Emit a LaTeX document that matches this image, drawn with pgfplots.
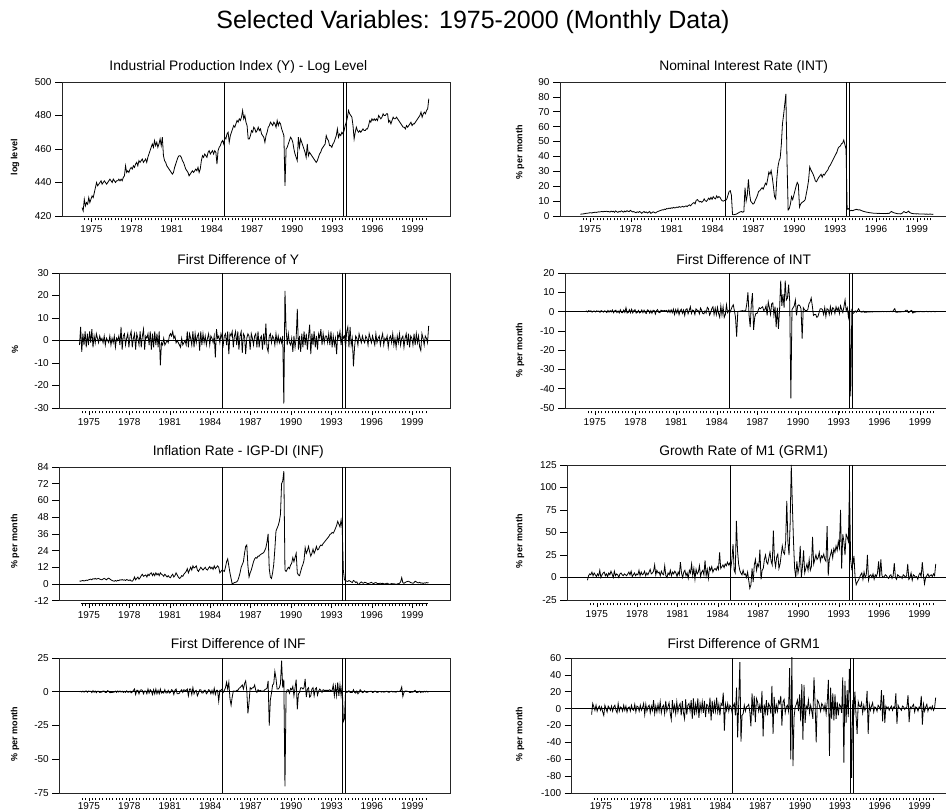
\documentclass[border=0pt]{standalone}
\usepackage{fontspec}
\setmainfont{Liberation Sans}
\setsansfont{Liberation Sans}
\usepackage{pgfplots}
\usepackage{pgfplotstable}
\pgfplotsset{compat=1.18}

% Industrial production, log level (monthly)
\pgfplotstableread[header=false,row sep=\\]{
425\\423\\430\\426\\428\\427\\431\\428\\430\\432\\
431\\434\\437\\440\\438\\439\\440\\441\\439\\440\\
441\\440\\439\\440\\441\\442\\441\\440\\442\\441\\
440\\441\\441\\442\\441\\442\\441\\443\\444\\450\\
446\\447\\446\\448\\449\\448\\450\\449\\451\\452\\
450\\453\\452\\453\\454\\452\\453\\454\\452\\455\\
457\\459\\461\\463\\461\\465\\462\\464\\461\\463\\
466\\462\\467\\456\\453\\452\\450\\449\\448\\447\\
446\\445\\446\\449\\451\\453\\455\\456\\456\\455\\
453\\452\\450\\448\\447\\446\\444\\445\\446\\447\\
446\\447\\448\\447\\449\\446\\448\\453\\456\\455\\
457\\456\\455\\458\\459\\457\\458\\459\\457\\459\\
458\\451\\459\\461\\462\\464\\465\\463\\467\\466\\
469\\470\\464\\468\\470\\472\\474\\473\\475\\477\\
476\\478\\477\\479\\483\\478\\480\\476\\474\\466\\
466\\468\\471\\470\\473\\472\\470\\471\\473\\471\\
472\\469\\468\\467\\464\\468\\470\\473\\474\\476\\
475\\474\\476\\475\\473\\477\\474\\476\\475\\472\\
470\\468\\438\\460\\461\\463\\465\\467\\466\\464\\
460\\457\\455\\453\\467\\461\\466\\464\\462\\460\\
458\\455\\463\\456\\458\\457\\456\\455\\454\\453\\
452\\453\\455\\457\\458\\460\\461\\462\\463\\468\\
466\\465\\462\\462\\461\\463\\464\\466\\468\\472\\
467\\469\\468\\470\\469\\471\\474\\476\\479\\483\\
481\\480\\479\\474\\466\\470\\473\\471\\470\\471\\
470\\471\\472\\471\\471\\472\\472\\474\\477\\476\\
478\\477\\478\\477\\478\\477\\480\\479\\478\\479\\
481\\480\\480\\481\\481\\476\\477\\475\\477\\479\\
478\\478\\479\\478\\477\\476\\475\\474\\473\\473\\
472\\474\\473\\474\\475\\476\\474\\475\\475\\476\\
477\\478\\479\\480\\482\\479\\481\\482\\481\\483\\
484\\490\\
}\tabY

% First difference of Y
\pgfplotstableread[header=false,row sep=\\]{
-2\\6\\-5\\3\\-2\\4\\-3\\3\\-2\\4\\
-1\\5\\-3\\2\\-1\\3\\1\\-1\\2\\0\\
1\\-1\\2\\-2\\1\\0\\-1\\2\\-2\\1\\
-1\\2\\-3\\1\\0\\2\\-2\\6\\-4\\2\\
3\\-2\\1\\3\\-3\\2\\4\\-3\\1\\3\\
-4\\3\\1\\-2\\4\\-3\\2\\5\\-4\\2\\
1\\3\\-2\\4\\-4\\3\\-3\\4\\-2\\3\\
-3\\4\\-11\\-1\\-2\\1\\-2\\-1\\0\\-1\\
2\\3\\2\\4\\1\\2\\-1\\0\\-1\\-2\\
-3\\1\\-2\\-1\\0\\-2\\4\\-3\\3\\1\\
-2\\4\\-3\\3\\-1\\2\\3\\-4.5\\4\\-2\\
3\\-1\\2\\-2\\1\\3\\-2\\2\\1\\-1\\
2\\-7.5\\5\\1\\2\\-1\\3\\1\\-2\\2\\
3\\-2\\4\\-6\\3\\2\\4\\-3\\2\\4\\
-2\\4\\-4\\2\\4\\-5.5\\3\\2\\-6\\1\\
3\\2\\-4\\3\\1\\-2\\2\\3\\-3\\4\\
-3\\1\\2\\-4\\3\\-2\\7.5\\-3\\-5\\2\\
3\\-1\\2\\1\\-2\\3\\-1\\2\\-1\\1\\
-1\\2\\-28\\22\\5\\-2\\3\\-1\\-2\\1\\
-5\\2\\-3\\1\\14\\-4\\2\\-5\\3\\-3\\
4\\-2\\3\\-4\\2\\7\\-6\\3\\-2\\4\\
-3\\2\\-4\\3\\1\\5\\-2\\3\\-1\\2\\
2\\-1\\3\\-2\\4\\-3\\2\\-2\\1\\-6\\
3\\1\\4\\-2\\3\\1\\2\\-3\\4\\6\\
-3\\6\\-2\\1\\-11.5\\-3\\2\\1\\-2\\3\\
1\\-1\\2\\0\\-1\\2\\1\\-2\\3\\1\\
-1\\2\\0\\-2\\3\\-1\\1\\2\\-2\\1\\
3\\-2\\1\\0\\2\\-3\\1\\2\\-1\\3\\
-2\\1\\-3\\2\\-1\\3\\-2\\1\\2\\-3\\
1\\3\\-2\\3\\-3\\2\\1\\-2\\3\\-2\\
3\\-1\\2\\-3\\-4.5\\3\\1\\-2\\2\\1\\
-1\\6.5\\
}\tabdY

% Nominal interest rate
\pgfplotstableread[header=false,row sep=\\]{
1.2\\1.3\\1.3\\1.5\\1.6\\1.8\\1.8\\2.0\\2.1\\2.2\\
2.0\\2.3\\2.4\\2.5\\2.4\\2.6\\2.8\\2.7\\2.9\\3.0\\
2.8\\3.1\\3.0\\3.2\\2.9\\3.0\\2.6\\3.3\\2.8\\3.2\\
2.5\\3.4\\2.9\\2.4\\3.1\\2.7\\3.5\\3.0\\2.6\\3.3\\
2.8\\3.6\\3.1\\2.9\\3.8\\3.2\\2.7\\3.0\\2.5\\2.2\\
2.8\\2.4\\3.0\\2.6\\1.8\\2.5\\3.0\\2.3\\2.7\\2.0\\
2.5\\3.0\\1.8\\2.2\\2.8\\2.5\\2.0\\2.5\\3.0\\3.2\\
3.6\\3.8\\4.2\\4.0\\4.6\\4.4\\5.0\\4.8\\5.3\\5.0\\
5.5\\5.2\\5.8\\5.4\\5.6\\6.0\\5.7\\6.3\\5.9\\6.1\\
6.5\\6.0\\6.4\\6.8\\6.3\\7.0\\7.5\\6.8\\7.8\\8.5\\
9.0\\8.2\\10.5\\11.0\\10.2\\9.5\\9.8\\9.2\\10.0\\11.5\\
10.2\\9.8\\10.8\\12.0\\11.0\\12.5\\11.2\\13.0\\12.0\\11.5\\
13.5\\12.2\\13.0\\12.5\\11.0\\10.2\\10.0\\10.5\\10.5\\11.5\\
14.0\\16.5\\17.0\\14.0\\1.0\\0.8\\1.0\\1.2\\1.5\\2.0\\
2.5\\2.8\\3.0\\2.5\\3.0\\19.0\\10.0\\14.0\\24.5\\15.0\\
10.0\\9.0\\8.0\\8.5\\10.5\\12.0\\14.0\\16.5\\17.0\\18.0\\
19.0\\18.0\\20.0\\22.0\\21.0\\25.0\\29.5\\28.0\\30.5\\26.0\\
20.0\\13.0\\11.5\\25.0\\33.0\\37.0\\39.0\\48.0\\62.0\\68.0\\
75.0\\82.0\\37.0\\4.0\\5.0\\8.0\\13.0\\11.0\\14.0\\17.0\\
20.0\\22.5\\21.0\\6.0\\8.0\\9.0\\9.5\\10.0\\11.0\\15.0\\
19.0\\24.0\\33.0\\31.0\\29.5\\28.0\\26.0\\23.5\\23.0\\24.5\\
26.0\\27.0\\28.0\\26.0\\28.0\\27.5\\29.0\\30.0\\31.0\\33.0\\
34.0\\35.5\\37.0\\38.5\\40.0\\41.5\\43.0\\45.5\\46.5\\47.0\\
48.5\\49.0\\51.0\\48.0\\45.0\\4.5\\5.0\\4.0\\3.5\\3.8\\
3.5\\4.0\\4.2\\4.5\\4.3\\4.0\\4.2\\3.8\\3.5\\3.2\\
3.0\\2.8\\2.6\\2.5\\2.3\\2.2\\2.1\\2.0\\1.9\\1.9\\
1.8\\1.8\\1.7\\1.8\\1.7\\1.7\\1.7\\1.6\\1.7\\1.6\\
1.7\\1.8\\1.7\\2.5\\3.0\\2.6\\2.2\\2.0\\1.8\\1.6\\
1.5\\1.5\\1.4\\1.6\\2.3\\3.0\\2.5\\2.2\\2.6\\3.2\\
2.4\\2.0\\1.7\\1.6\\1.5\\1.5\\1.4\\1.5\\1.4\\1.4\\
1.3\\1.3\\1.4\\1.3\\1.2\\1.3\\1.2\\1.2\\1.3\\1.2\\
1.1\\1.2\\
}\tabINT

% First difference of INT
\pgfplotstableread[header=false,row sep=\\]{
0\\0.3\\-0.2\\0.5\\0.1\\0.4\\-0.3\\0.2\\0.3\\-0.2\\
0.4\\0.1\\0.3\\-0.4\\0.5\\0.2\\-0.3\\0.4\\0.1\\-0.5\\
0.6\\-0.3\\0.5\\-0.2\\0.8\\-0.6\\0.4\\0.7\\-0.5\\0.3\\
-0.7\\0.9\\-0.5\\-0.6\\0.8\\-0.4\\2.0\\-0.8\\-0.5\\1.0\\
-0.6\\1.2\\-0.7\\0.5\\1.0\\-0.8\\-0.5\\0.6\\-0.7\\-0.4\\
0.8\\-0.6\\0.7\\-0.5\\-1.0\\0.9\\0.6\\-0.8\\0.5\\-0.9\\
0.7\\0.6\\-1.3\\0.5\\1.0\\-0.4\\-0.6\\0.7\\0.5\\0.3\\
0.6\\0.3\\0.6\\-0.4\\0.8\\-0.5\\0.9\\-0.6\\1.2\\-1.5\\
1.0\\-0.8\\1.3\\-1.6\\0.5\\1.2\\-0.9\\0.8\\-2.0\\1.0\\
1.5\\-1.2\\0.6\\2.5\\-1.0\\0.8\\0.5\\-1.5\\1.4\\0.7\\
0.5\\-1.2\\1.8\\0.6\\-1.0\\-1.2\\0.4\\-0.8\\2.2\\1.5\\
-1.8\\-0.6\\1.5\\2.5\\-1.5\\1.8\\-1.6\\2.2\\-1.0\\-3.0\\
3.0\\-1.8\\2.5\\-3.0\\-1.5\\3.5\\-0.6\\0.5\\-0.5\\1.0\\
2.5\\3.5\\0.5\\-3.0\\-13.0\\-0.2\\0.2\\0.2\\0.3\\0.5\\
0.3\\0.4\\0.5\\4.0\\10.0\\-2.0\\-8.0\\4.0\\9.5\\-9.5\\
-3.0\\-1.0\\-1.0\\0.5\\2.0\\1.5\\2.0\\2.5\\0.5\\1.0\\
3.0\\-2.0\\5.0\\2.0\\-1.5\\4.0\\4.5\\-2.0\\2.5\\-8.0\\
2.0\\-9.0\\1.0\\16.0\\3.0\\9.0\\2.0\\16.0\\6.0\\7.0\\
14.0\\5.0\\-45.0\\1.0\\2.0\\3.0\\6.0\\-2.0\\3.0\\3.5\\
3.0\\1.5\\-14.0\\2.0\\1.0\\0.5\\0.5\\1.0\\4.0\\5.0\\
7.0\\3.0\\-2.0\\-1.5\\-1.5\\-3.0\\-2.5\\-0.5\\1.5\\1.5\\
1.0\\-1.5\\2.0\\-2.5\\1.5\\1.0\\-1.5\\2.5\\-1.0\\2.0\\
1.5\\-1.0\\2.5\\0.5\\2.0\\-1.0\\3.0\\1.0\\-0.5\\2.5\\
6.0\\0.5\\2.0\\-3.0\\1.5\\-44.0\\0.5\\-1.0\\-0.5\\0.3\\
-0.3\\0.5\\1.5\\0.3\\-0.2\\-0.3\\0.2\\-0.4\\-0.3\\-0.3\\
-0.2\\-0.2\\-0.2\\-0.1\\-0.2\\-0.1\\-0.1\\-0.1\\-0.1\\0\\
-0.1\\0\\-0.1\\0.1\\-0.1\\0\\0\\-0.1\\0.1\\-0.1\\
0.1\\0.1\\-0.1\\0.8\\1.5\\-0.4\\-0.4\\-0.2\\-0.2\\-0.2\\
-0.1\\0\\-0.1\\0.2\\0.7\\0.7\\-0.5\\-0.3\\0.4\\0.6\\
-0.8\\-0.4\\-0.3\\-0.1\\-0.1\\0\\-0.1\\0.1\\-0.1\\0\\
-0.1\\0\\0.1\\-0.1\\-0.1\\0.1\\-0.1\\0\\0.1\\-0.1\\
-0.1\\0.1\\
}\tabdINT

% Inflation rate IGP-DI
\pgfplotstableread[header=false,row sep=\\]{
2.2\\2.0\\2.3\\2.5\\2.2\\2.4\\2.8\\2.5\\3.0\\3.2\\
3.5\\3.0\\3.8\\3.5\\4.0\\3.4\\3.8\\4.0\\3.5\\3.2\\
3.0\\3.6\\4.0\\3.5\\3.0\\3.8\\4.2\\3.6\\3.0\\2.5\\
2.2\\2.0\\2.5\\2.0\\2.6\\2.4\\3.0\\2.8\\3.2\\2.7\\
3.0\\2.5\\3.2\\2.8\\2.5\\3.0\\2.2\\2.0\\3.0\\5.0\\
3.0\\4.0\\5.0\\3.5\\4.5\\6.0\\7.0\\5.5\\6.0\\6.5\\
5.0\\7.0\\6.0\\7.5\\8.0\\6.0\\7.5\\6.0\\8.0\\6.5\\
7.5\\6.0\\8.0\\7.0\\6.5\\5.5\\7.0\\6.0\\5.0\\6.0\\
5.0\\4.5\\6.0\\7.0\\5.0\\6.0\\8.0\\6.5\\5.0\\4.0\\
4.5\\6.0\\5.5\\7.0\\8.0\\9.0\\11.0\\8.0\\10.0\\12.0\\
10.0\\13.0\\11.5\\12.0\\13.0\\10.0\\9.0\\10.5\\12.0\\11.0\\
10.0\\11.0\\12.0\\10.5\\10.0\\11.5\\12.5\\11.0\\12.0\\10.5\\
13.0\\11.0\\12.0\\13.0\\12.0\\8.0\\9.0\\10.0\\9.5\\9.0\\
12.0\\16.0\\18.0\\13.0\\8.0\\4.0\\0.0\\0.5\\1.0\\1.2\\
1.5\\2.5\\5.0\\8.0\\12.0\\14.0\\16.0\\22.0\\27.0\\28.0\\
13.0\\5.0\\8.0\\10.0\\13.0\\16.0\\18.0\\19.0\\18.5\\20.0\\
20.0\\21.0\\21.5\\22.0\\22.5\\24.0\\26.0\\30.0\\36.0\\11.0\\
5.0\\4.0\\8.0\\14.0\\25.0\\38.0\\40.0\\42.0\\45.0\\50.0\\
72.0\\74.0\\81.0\\10.0\\9.0\\10.5\\12.0\\11.0\\13.5\\15.0\\
19.0\\16.0\\19.0\\22.0\\8.0\\6.5\\6.0\\9.0\\12.0\\14.0\\
17.0\\26.0\\22.0\\24.0\\27.0\\23.0\\20.0\\22.0\\25.0\\22.0\\
24.0\\27.0\\24.5\\25.0\\27.0\\28.0\\27.5\\29.0\\30.0\\31.0\\
32.0\\33.0\\34.0\\35.5\\36.0\\37.0\\36.5\\38.0\\40.0\\42.0\\
45.0\\43.0\\41.0\\46.0\\40.0\\10.0\\3.0\\2.5\\2.0\\1.8\\
2.5\\2.0\\1.5\\1.0\\2.5\\2.0\\1.0\\1.5\\0.0\\-0.5\\
1.0\\1.5\\0.8\\0.5\\1.2\\1.0\\0.5\\0.3\\0.5\\0.8\\
1.2\\0.6\\0.3\\0.8\\1.0\\0.5\\0.2\\0.4\\0.6\\0.3\\
0.5\\0.2\\0.0\\0.3\\0.6\\0.2\\-0.2\\0.0\\0.3\\0.1\\
0.2\\0.0\\-0.3\\0.1\\0.2\\0.5\\1.5\\4.5\\1.0\\0.5\\
1.0\\1.5\\1.8\\2.0\\1.5\\1.0\\0.8\\0.5\\1.0\\2.0\\
1.5\\1.0\\0.8\\1.2\\0.6\\0.8\\0.4\\0.8\\0.6\\1.0\\
0.8\\0.9\\
}\tabINF

% Growth rate of M1
\pgfplotstableread[header=false,row sep=\\]{
-3\\2\\4\\3\\6\\2\\5\\3\\1\\4\\
2\\8\\0\\3\\5\\6\\2\\4\\1\\5\\
3\\7\\4\\0\\7\\2\\4\\3\\0\\4\\
5\\3\\2\\4\\3\\2\\4\\6\\3\\7\\
1\\3\\5\\2\\4\\3\\8\\2\\6\\3\\
4\\7\\2\\5\\3\\6\\9\\4\\5\\7\\
14\\3\\8\\5\\6\\2\\7\\4\\3\\13\\
2\\0\\5\\3\\8\\2\\6\\4\\7\\5\\
1\\6\\3\\17\\5\\0\\6\\8\\2\\5\\
-1\\8\\5\\15\\2\\10\\-2\\9\\4\\6\\
13\\1\\6\\8\\3\\19\\2\\9\\-1\\11\\
8\\12\\6\\9\\10\\8\\12\\9\\28\\10\\
12\\14\\11\\15\\13\\17\\14\\16\\10\\20\\
37\\8\\5\\63\\30\\15\\8\\5\\3\\8\\
3\\4\\0\\6\\-3\\-12\\-8\\10\\-5\\14\\
20\\8\\15\\12\\31\\-2\\8\\10\\20\\25\\
17\\15\\22\\28\\18\\14\\52\\20\\12\\23\\
26\\10\\15\\25\\35\\28\\26\\40\\85\\40\\
25\\60\\125\\80\\40\\10\\0\\18\\5\\12\\
35\\0\\12\\30\\5\\10\\15\\8\\20\\8\\
12\\45\\15\\20\\25\\20\\22\\28\\18\\24\\
22\\26\\20\\18\\57\\2\\20\\25\\30\\22\\
32\\28\\35\\30\\40\\33\\75\\10\\48\\40\\
25\\48\\45\\40\\103\\20\\10\\15\\24\\0\\
-8\\-5\\-3\\0\\3\\5\\-2\\6\\0\\3\\
25\\-3\\2\\3\\0\\4\\-2\\3\\1\\5\\
18\\0\\20\\2\\0\\1\\3\\2\\0\\-1\\
2\\3\\-1\\2\\16\\0\\-2\\3\\2\\0\\
1\\-1\\3\\2\\0\\2\\15\\-2\\0\\5\\
-3\\3\\2\\0\\1\\-2\\3\\5\\1\\17\\
3\\-7\\0\\2\\4\\1\\2\\3\\1\\4\\
2\\15\\
}\tabGRM

% First difference of INF
\pgfplotstableread[header=false,row sep=\\]{
0\\0.3\\-0.2\\0.5\\-0.3\\0.4\\0.6\\-0.4\\0.5\\0.3\\
0.4\\-0.6\\0.8\\-0.4\\0.5\\-0.7\\0.4\\0.3\\-0.5\\-0.4\\
-0.2\\0.6\\0.5\\-0.6\\-0.5\\0.8\\0.4\\-0.7\\-0.6\\-0.5\\
-0.4\\-0.2\\0.5\\-0.5\\0.6\\-0.2\\0.6\\-0.2\\0.4\\-0.5\\
0.3\\-0.5\\0.7\\-0.4\\-0.3\\0.5\\-0.8\\-0.2\\1.0\\2.0\\
-2.0\\1.0\\1.0\\-1.5\\1.0\\1.5\\1.0\\-1.5\\0.5\\0.5\\
-1.5\\2.0\\-1.0\\1.5\\0.5\\-2.0\\1.5\\-1.5\\2.0\\-1.5\\
1.0\\-1.5\\2.0\\-1.0\\-0.5\\-1.0\\1.5\\-1.0\\-1.0\\1.0\\
-1.0\\-0.5\\1.5\\1.0\\-2.0\\1.0\\2.0\\-1.5\\-1.5\\-1.0\\
0.5\\1.5\\-0.5\\1.5\\1.0\\1.0\\2.0\\-3.0\\2.0\\2.0\\
-2.0\\3.0\\-1.5\\0.5\\1.0\\-3.0\\-1.0\\1.5\\1.5\\-1.0\\
-1.0\\1.0\\1.0\\-1.5\\-0.5\\1.5\\1.0\\-1.5\\1.0\\-1.5\\
2.5\\-2.0\\1.0\\1.0\\-7.0\\1.0\\1.0\\2.0\\-0.5\\1.0\\
3.0\\7.0\\2.0\\7.0\\-5.0\\-10.0\\-4.0\\0.5\\0.5\\0.2\\
1.0\\1.0\\2.5\\3.0\\4.0\\5.0\\2.0\\6.0\\8.0\\1.0\\
-16.0\\-8.0\\3.0\\2.0\\3.0\\3.0\\5.0\\1.0\\-0.5\\1.5\\
0.5\\1.0\\0.5\\0.5\\0.5\\1.5\\2.0\\2.5\\8.0\\-25.0\\
-6.0\\-1.0\\5.0\\6.0\\15.0\\10.0\\2.0\\2.0\\3.0\\6.0\\
23.0\\3.0\\9.0\\-70.0\\-1.0\\1.5\\1.5\\-1.0\\2.5\\1.5\\
4.0\\-3.0\\3.0\\9.0\\-13.0\\-1.5\\-0.5\\3.0\\3.0\\2.0\\
3.0\\9.5\\-4.0\\2.0\\3.0\\-4.0\\-3.0\\2.0\\3.0\\-3.0\\
2.0\\3.0\\-2.5\\0.5\\2.0\\1.0\\-0.5\\1.5\\1.0\\1.0\\
1.0\\1.0\\1.0\\1.5\\0.5\\1.0\\5.0\\-3.0\\4.0\\-3.0\\
7.0\\-3.0\\5.0\\-3.0\\5.0\\-22.0\\-20.0\\1.0\\-0.5\\-0.2\\
0.7\\-0.5\\-0.5\\-0.5\\1.5\\-0.5\\-1.0\\0.5\\-1.5\\-0.5\\
1.5\\0.5\\-0.7\\-0.3\\0.7\\-0.2\\-0.5\\-0.2\\0.2\\0.3\\
0.4\\-0.6\\-0.3\\0.5\\0.2\\-0.5\\-0.3\\0.2\\0.2\\-0.3\\
0.2\\-0.3\\-0.2\\0.3\\0.3\\-0.4\\-0.4\\0.2\\0.3\\-0.2\\
0.1\\-0.2\\-0.3\\0.4\\0.1\\0.3\\1.0\\3.5\\-3.5\\-0.5\\
0.5\\0.5\\0.3\\0.2\\-0.5\\-0.5\\-0.2\\-0.3\\0.5\\1.0\\
-0.5\\-0.5\\-0.2\\0.4\\-0.6\\0.2\\-0.4\\0.4\\-0.2\\0.4\\
-0.2\\0.1\\
}\tabdINF

% First difference of GRM1
\pgfplotstableread[header=false,row sep=\\]{
-7\\6\\2\\-2\\4\\-3\\1\\3\\-2\\2\\
-4\\-8\\4\\0\\-4\\3\\1\\-2\\3\\-3\\
2\\4\\-2\\-5\\6\\-3\\2\\1\\-3\\4\\
-2\\3\\-4\\1\\2\\-3\\4\\-1\\-2\\5\\
-4\\3\\2\\-3\\4\\-2\\1\\6\\-7\\5\\
-3\\2\\4\\-5\\3\\-2\\10\\-6\\3\\-4\\
5\\-3\\8\\-5\\2\\4\\-6\\9\\-3\\2\\
7\\-5\\-13\\10\\-3\\4\\-6\\8\\-4\\3\\
6\\-8\\9\\-5\\-12\\11\\-7\\4\\6\\-3\\
10\\-12\\12\\-8\\5\\-4\\12\\-11\\6\\-3\\
8\\-5\\9\\-10\\5\\4\\-6\\13\\-14\\9\\
-6\\7\\-3\\13\\-4\\5\\-8\\6\\4\\19\\
-26\\5\\-2\\6\\-3\\4\\2\\-5\\3\\6\\
-8\\25\\-34\\8\\55\\-39\\-8\\-6\\4\\-3\\
2\\3\\5\\-4\\-21\\18\\-8\\15\\-16\\12\\
8\\-3\\4\\-5\\21\\-33\\5\\-5\\10\\-8\\
6\\3\\-6\\27\\-30\\14\\-6\\4\\-3\\9\\
6\\15\\-20\\8\\11\\-5\\2\\4\\-3\\48\\
-60\\62\\-68\\-10\\2\\5\\10\\-3\\17\\-15\\
29\\-37\\28\\-17\\3\\0\\10\\-5\\4\\-3\\
-12\\37\\6\\-40\\10\\8\\3\\-3\\6\\4\\
-2\\5\\-6\\8\\34\\-56\\25\\-12\\18\\-14\\
17\\-12\\8\\-8\\5\\3\\-5\\37\\-64\\33\\
-17\\22\\-10\\47\\5\\-82\\10\\-8\\20\\-8\\
-30\\8\\3\\2\\7\\-5\\4\\-2\\1\\21\\
-30\\5\\-2\\3\\7\\-4\\2\\1\\-3\\4\\
2\\-1\\22\\-15\\16\\-17\\3\\0\\2\\-2\\
1\\3\\-2\\2\\1\\18\\-18\\4\\1\\0\\
-2\\3\\2\\-1\\1\\2\\16\\-16\\2\\0\\
3\\5\\-4\\2\\1\\-3\\2\\1\\15\\-19\\
5\\-3\\2\\5\\-3\\1\\2\\-1\\3\\-2\\
1\\13\\
}\tabdGRM

\pgfplotsset{
  pA/.style={
    scale only axis, anchor=south west,
    xmin=1972.8, xmax=2001.8,
    xtick=\empty, ytick pos=left,
    tick align=outside, major tick length=7pt,
    axis line style={black!85, line width=0.7pt},
    every tick/.style={black, line width=0.6pt},
    tick label style={font=\fontsize{10}{12}\selectfont},
  },
  pB/.style={
    scale only axis, anchor=south west, height=5pt,
    xmin=1972.8, xmax=2001.8, ymin=0, ymax=1,
    axis x line=bottom, axis y line=none,
    x axis line style={draw=none},
    xtick={1975,1978,1981,1984,1987,1990,1993,1996,1999},
    xticklabels={1975,1978,1981,1984,1987,1990,1993,1996,1999},
    minor xtick={1974.5,1974.75,...,2000.01},
    tick align=outside, major tick length=4pt, minor tick length=2.5pt,
    every tick/.style={black, line width=0.5pt},
    tick label style={font=\fontsize{10}{12}\selectfont},
  },
  pBlow/.style={pB, major tick length=3pt, minor tick length=2pt,
    xticklabel style={inner sep=1pt}},
  dl/.style={black, line width=0.8pt, no markers},
}
\tikzset{vl/.style={black, line width=0.75pt}}
\newcommand{\vlines}[2]{%
  \draw[vl] (axis cs:1984.93,#1) -- (axis cs:1984.93,#2);
  \draw[vl] (axis cs:1993.80,#1) -- (axis cs:1993.80,#2);
  \draw[vl] (axis cs:1994.02,#1) -- (axis cs:1994.02,#2);}
\newcommand{\zline}{\draw[vl] (axis cs:1972.8,0) -- (axis cs:2001.8,0);}
\newcommand{\xline}{\draw[black, line width=0.6pt] (axis cs:1974.38,0) -- (axis cs:2000.15,0);}

\begin{document}
\begin{tikzpicture}
\useasboundingbox (0pt,0pt) rectangle (946pt,811pt);

\node[font=\fontsize{25}{28}\selectfont] at (473pt,789pt) {Selected Variables: 1975-2000 (Monthly Data)};

% titles
\begin{scope}[every node/.style={font=\fontsize{13.8}{15}\selectfont}]
\node at (238.3pt,744.3pt) {Industrial Production Index (Y) - Log Level};
\node at (238.3pt,551.7pt) {First Difference of Y};
\node at (238.3pt,359.3pt) {Inflation Rate - IGP-DI (INF)};
\node at (238.3pt,167.7pt) {First Difference of INF};
\node at (743.7pt,744.3pt) {Nominal Interest Rate (INT)};
\node at (743.7pt,551.7pt) {First Difference of INT};
\node at (743.7pt,359.3pt) {Growth Rate of M1 (GRM1)};
\node at (743.7pt,167.7pt) {First Difference of GRM1};
\end{scope}
% y labels
\begin{scope}[every node/.style={font=\fontsize{9}{10}\selectfont\bfseries, rotate=90}]
\node at (15pt,653.5pt) {log level};
\node at (15pt,461pt) {\%};
\node at (15pt,269.3pt) {\% per month};
\node at (15pt,77pt) {\% per month};
\node at (520pt,658.5pt) {\% per month};
\node at (520pt,461pt) {\% per month};
\node at (520pt,269.3pt) {\% per month};
\node at (520pt,77pt) {\% per month};
\end{scope}

% ---------- Left row 1: Y
\begin{axis}[pA, at={(62pt,595pt)}, width=388pt, height=134pt,
  ymin=420, ymax=500, ytick={420,440,460,480,500}, yticklabels={420,440,460,480,500}]
\addplot[dl] table[x expr={1974.3+\coordindex/12}, y index=0] {\tabY};
\vlines{420}{500}
\end{axis}
\begin{axis}[pB, at={(62pt,593pt)}, width=388pt]\xline\end{axis}

% ---------- Left row 2: dY
\begin{axis}[pA, at={(59.3pt,403pt)}, width=390.7pt, height=135pt,
  ymin=-30, ymax=30, ytick={-30,-20,-10,0,10,20,30}, yticklabels={-30,-20,-10,0,10,20,30}]
\addplot[dl] table[x expr={1974.3+\coordindex/12}, y index=0] {\tabdY};
\zline
\vlines{-30}{30}
\end{axis}
\begin{axis}[pB, at={(59.3pt,400pt)}, width=390.7pt]\xline\end{axis}

% ---------- Left row 3: INF
\begin{axis}[pA, at={(59.3pt,210.3pt)}, width=390.7pt, height=133.7pt,
  ymin=-12, ymax=84, ytick={-12,0,12,24,36,48,60,72,84}, yticklabels={-12,0,12,24,36,48,60,72,84}]
\addplot[dl] table[x expr={1974.3+\coordindex/12}, y index=0] {\tabINF};
\zline
\vlines{-12}{84}
\end{axis}
\begin{axis}[pB, at={(59.3pt,207.3pt)}, width=390.7pt]\xline\end{axis}

% ---------- Left row 4: dINF
\begin{axis}[pA, at={(59.3pt,18pt)}, width=390.7pt, height=135pt,
  ymin=-75, ymax=25, ytick={-75,-50,-25,0,25}, yticklabels={-75,-50,-25,0,25}]
\addplot[dl] table[x expr={1974.3+\coordindex/12}, y index=0] {\tabdINF};
\zline
\vlines{-75}{25}
\end{axis}
\begin{axis}[pBlow, at={(59.3pt,13pt)}, width=390.7pt]\xline\end{axis}

% ---------- Right row 1: INT
\begin{axis}[pA, at={(560pt,595pt)}, width=395pt, height=134pt,
  ymin=0, ymax=90, ytick={0,10,20,30,40,50,60,70,80,90}, yticklabels={0,10,20,30,40,50,60,70,80,90}]
\addplot[dl] table[x expr={1974.3+\coordindex/12}, y index=0] {\tabINT};
\vlines{0}{90}
\end{axis}
\begin{axis}[pB, at={(560pt,593pt)}, width=395pt]\xline\end{axis}

% ---------- Right row 2: dINT
\begin{axis}[pA, at={(565pt,403pt)}, width=393pt, height=135pt,
  ymin=-50, ymax=20, ytick={-50,-40,-30,-20,-10,0,10,20}, yticklabels={-50,-40,-30,-20,-10,0,10,20}]
\addplot[dl] table[x expr={1974.3+\coordindex/12}, y index=0] {\tabdINT};
\zline
\vlines{-50}{20}
\end{axis}
\begin{axis}[pB, at={(565pt,400pt)}, width=393pt]\xline\end{axis}

% ---------- Right row 3: GRM1
\begin{axis}[pA, at={(567.3pt,211pt)}, width=389.7pt, height=135pt,
  ymin=-25, ymax=125, ytick={-25,0,25,50,75,100,125}, yticklabels={-25,0,25,50,75,100,125}]
\addplot[dl] table[x expr={1974.3+\coordindex/12}, y index=0] {\tabGRM};
\zline
\vlines{-25}{125}
\end{axis}
\begin{axis}[pB, at={(567.3pt,208pt)}, width=389.7pt]\xline\end{axis}

% ---------- Right row 4: dGRM1
\begin{axis}[pA, at={(571.7pt,18pt)}, width=385pt, height=135pt,
  ymin=-100, ymax=60, ytick={-100,-80,-60,-40,-20,0,20,40,60}, yticklabels={-100,-80,-60,-40,-20,0,20,40,60}]
\addplot[dl] table[x expr={1974.3+\coordindex/12}, y index=0] {\tabdGRM};
\zline
\vlines{-100}{60}
\end{axis}
\begin{axis}[pBlow, at={(571.7pt,13pt)}, width=385pt]\xline\end{axis}

\end{tikzpicture}
\end{document}
